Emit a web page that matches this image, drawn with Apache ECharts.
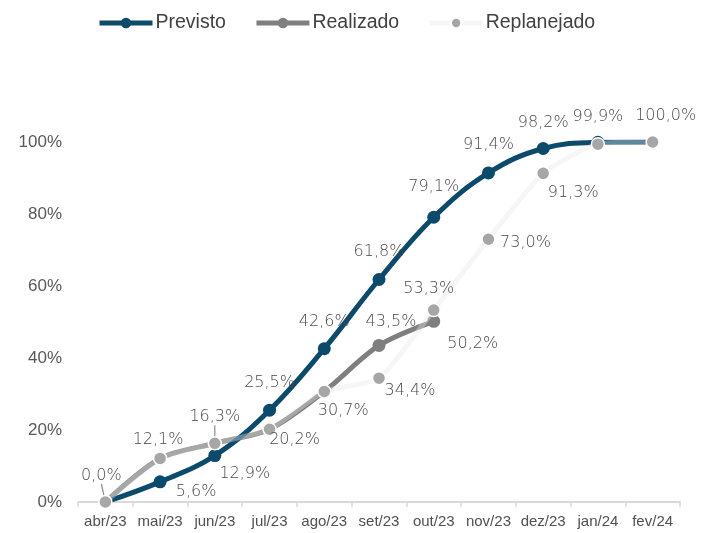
<!DOCTYPE html>
<html>
<head>
<meta charset="utf-8">
<script src="https://cdn.jsdelivr.net/npm/echarts@6/dist/echarts.min.js"></script>
<style>html,body{margin:0;padding:0;background:#fff}#c{width:717px;height:533px}</style>
</head>
<body>
<div id="c"></div>
<script>
const categories = ['abr/23','mai/23','jun/23','jul/23','ago/23','set/23','out/23','nov/23','dez/23','jan/24','fev/24'];
const previsto = [0, 5.6, 12.9, 25.5, 42.6, 61.8, 79.1, 91.4, 98.2, 99.9, 100.0];
const realizado = [0, 12.1, 16.3, 20.2, 30.7, 43.5, 50.2];
const replanejado = [0, 12.1, 16.3, 20.2, 30.7, 34.4, 53.3, 73.0, 91.3, 99.4, 100.0];
const yTicks = [0, 20, 40, 60, 80, 100];

// label placement (style only): [dx, dy] offsets of label centre from point, null = no label
const prevLbl = [null, [36, 10], [30, 18], [0, -27], [0, -27], [0, -28], [0, -30], [0, -28], [0, -26], [0, -26], null];
const realLbl = [null, null, null, null, null, [12, -24], [39, 23]];
const repLbl = [[-4, -26, true], [-2, -19], [0, -26, true], [25, 11], [19, 19], [31, 13], [-5, -21], [37, 4], [30, 20], null, [13, -26]];

const fmt = v => v.toFixed(1).replace('.', ',') + '%';
const lblFont = {fontFamily: 'DejaVu Sans', fontWeight: 200, fontSize: 16, color: '#4a4a4a'};

function build(vals, lbls) {
  return vals.map((v, i) => {
    const l = lbls[i];
    if (!l) return {value: v, label: {show: false}};
    const item = {value: v, label: Object.assign({show: true, position: 'inside', offset: [l[0], l[1]], formatter: p => fmt(p.value)}, lblFont)};
    if (l[2]) item.labelLine = {show: true, length2: 0, lineStyle: {color: '#8c8c8c', width: 1.2}};
    return item;
  });
}

const chart = echarts.init(document.getElementById('c'), null, {renderer: 'canvas'});
chart.setOption({
  animation: false,
  backgroundColor: '#ffffff',
  legend: {
    data: [
      {name: 'Previsto', itemStyle: {color: '#0b4a6a'}, lineStyle: {width: 5, color: '#0b4a6a'}},
      {name: 'Realizado', itemStyle: {color: '#7f7f7f'}, lineStyle: {width: 5, color: '#7f7f7f'}},
      {name: 'Replanejado', itemStyle: {color: '#a6a6a6'}, lineStyle: {width: 5, color: '#f6f6f6'}}
    ],
    top: 8, left: 92,
    itemWidth: 53, itemHeight: 13, itemGap: 28,
    textStyle: {fontFamily: 'Liberation Sans', fontSize: 19.5, color: '#404040', padding: [0, 0, 0, -2]}
  },
  grid: {left: 78, right: 37, top: 142, bottom: 31, containLabel: false},
  xAxis: {
    type: 'category', data: categories, boundaryGap: true,
    axisLine: {lineStyle: {color: '#d9d9d9', width: 2}},
    axisTick: {show: true, length: 5, interval: 0, lineStyle: {color: '#d9d9d9', width: 1.5}},
    axisLabel: {interval: 0, fontFamily: 'Liberation Sans', fontSize: 15, color: '#505050', margin: 12}
  },
  yAxis: {
    type: 'value', min: yTicks[0], max: yTicks[yTicks.length - 1], interval: 20,
    axisLine: {show: false}, axisTick: {show: false}, splitLine: {show: false},
    axisLabel: {fontFamily: 'Liberation Sans', fontSize: 17, color: '#595959', margin: 16, formatter: v => v + '%'}
  },
  series: [
    {
      name: 'Realizado', type: 'line', smooth: 0.3, z: 2,
      data: build(realizado, realLbl),
      symbol: 'circle', symbolSize: 13,
      lineStyle: {color: '#7f7f7f', width: 5},
      itemStyle: {color: '#7f7f7f'}
    },
    {
      name: 'Previsto', type: 'line', smooth: 0.4, z: 3,
      data: build(previsto, prevLbl),
      symbol: 'circle', symbolSize: 13,
      lineStyle: {color: '#0b4a6a', width: 5},
      itemStyle: {color: '#0b4a6a'}
    },
    {
      name: 'Replanejado', type: 'line', smooth: 0.2, z: 4,
      data: build(replanejado, repLbl),
      symbol: 'circle', symbolSize: 13,
      lineStyle: {color: 'rgba(232,232,232,0.39)', width: 5},
      itemStyle: {color: '#a6a6a6', borderColor: '#ffffff', borderWidth: 1.5}
    }
  ]
});
</script>
</body>
</html>
